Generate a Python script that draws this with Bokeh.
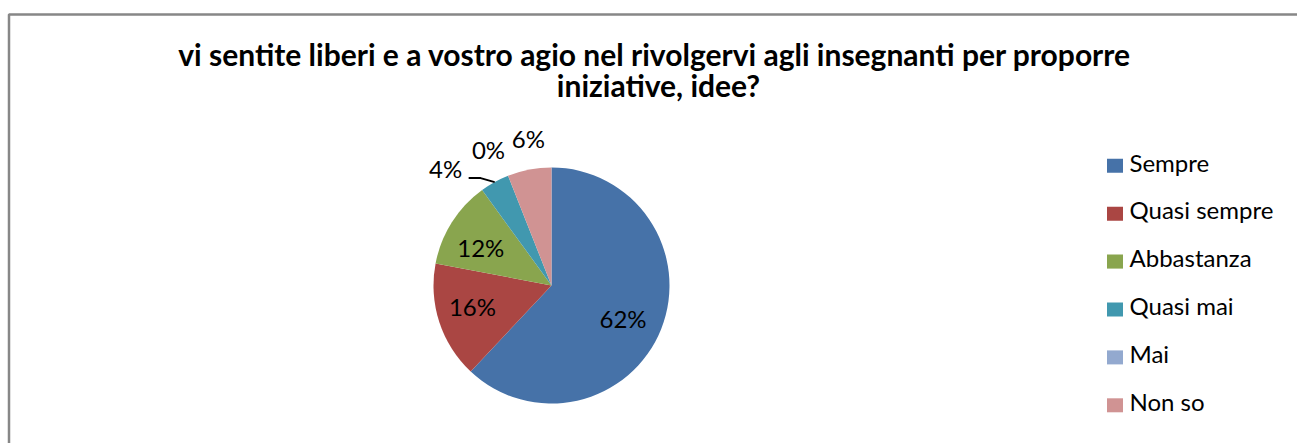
import math
from bokeh.plotting import figure
from bokeh.models import Range1d, ColumnDataSource
from bokeh.core.properties import value
from bokeh.embed import file_html
from bokeh.resources import INLINE

# ---- data ----
categories = ["Sempre", "Quasi sempre", "Abbastanza", "Quasi mai", "Mai", "Non so"]
percentages = [62, 16, 12, 4, 0, 6]
title_lines = ["vi sentite liberi e a vostro agio nel rivolgervi agli insegnanti  per proporre",
               "iniziative, idee?"]
colors = ["#4672A8", "#AA4643", "#89A54E", "#4198AF", "#93A9CF", "#D09393"]

# ---- layout (pixel-based coordinate system, y = 443 - pixel_y) ----
W, H = 1297, 443
FONT = "Lato"
def Y(py):
    return H - py

CX, CY, R = 551, Y(285), 118
# per-slice label placement: (angle shift in degrees, radial factor)
label_place = [(5.4, 0.68), (1.2, 0.70), (-5.8, 0.67), (-14.0, 1.32), (-3.7, 1.25), (1.7, 1.24)]
LABEL_DY = 3  # compensates vertical placement of middle-baseline text

p = figure(width=W, height=H, x_range=Range1d(0, W), y_range=Range1d(0, H),
           output_backend="svg", toolbar_location=None, min_border=0,
           x_axis_location=None, y_axis_location=None)
p.grid.visible = False
p.outline_line_color = None
p.background_fill_color = "white"
p.border_fill_color = "white"

# chart frame (left and top edges; the rest lies outside the window)
p.line(x=[8.5, 8.5, W + 50], y=[Y(H + 50), Y(14), Y(14)], line_color="#878787", line_width=2.5)

# pie
total = float(sum(percentages))
starts, ends, cols, mids = [], [], [], []
cum = 0.0
for pct, c in zip(percentages, colors):
    a0 = cum / total
    cum += pct
    a1 = cum / total
    mids.append((a0 + a1) / 2 * 360.0)
    if pct > 0:
        starts.append(math.pi / 2 - 2 * math.pi * a1)
        ends.append(math.pi / 2 - 2 * math.pi * a0)
        cols.append(c)
src = ColumnDataSource(dict(start=starts, end=ends, color=cols))
p.wedge(x=CX, y=CY, radius=R, start_angle="start", end_angle="end", direction="anticlock",
        fill_color="color", line_color=None, source=src)

# data labels
lx, ly, lt = [], [], []
for pct, mid, (shift, f) in zip(percentages, mids, label_place):
    a = math.radians(mid + shift)
    lx.append(CX + f * R * math.sin(a))
    ly.append(CY + f * R * math.cos(a) + LABEL_DY)
    lt.append(f"{pct}%")
p.text(x=lx, y=ly, text=lt, text_align="center", text_baseline="middle",
       text_font=value(FONT), text_font_size="24px", text_color="#000000")

# leader line for the "Quasi mai" label
i = categories.index("Quasi mai")
a = math.radians(mids[i])
ex, ey = CX + R * math.sin(a), CY + R * math.cos(a)
p.line(x=[ex - 26, ex - 14, ex], y=[ey + 4, ey + 4, ey], line_color="#000000", line_width=2)

# title
p.text(x=[658, 658], y=[Y(53.5), Y(84.5)], text=title_lines, text_align="center",
       text_baseline="middle", text_font=value(FONT), text_font_style="bold",
       text_font_size="30px", text_color="#000000")

# legend
rows = [Y(165.3 + 47.9 * k) for k in range(len(categories))]
p.rect(x=[1114.5] * len(categories), y=rows, width=16, height=14, fill_color=colors, line_color=None)
p.text(x=[1129] * len(categories), y=[r + 3.8 for r in rows], text=categories, text_align="left",
       text_baseline="middle", text_font=value(FONT), text_font_size="24px", text_color="#000000")

open("out.html", "w").write(file_html(p, INLINE))
